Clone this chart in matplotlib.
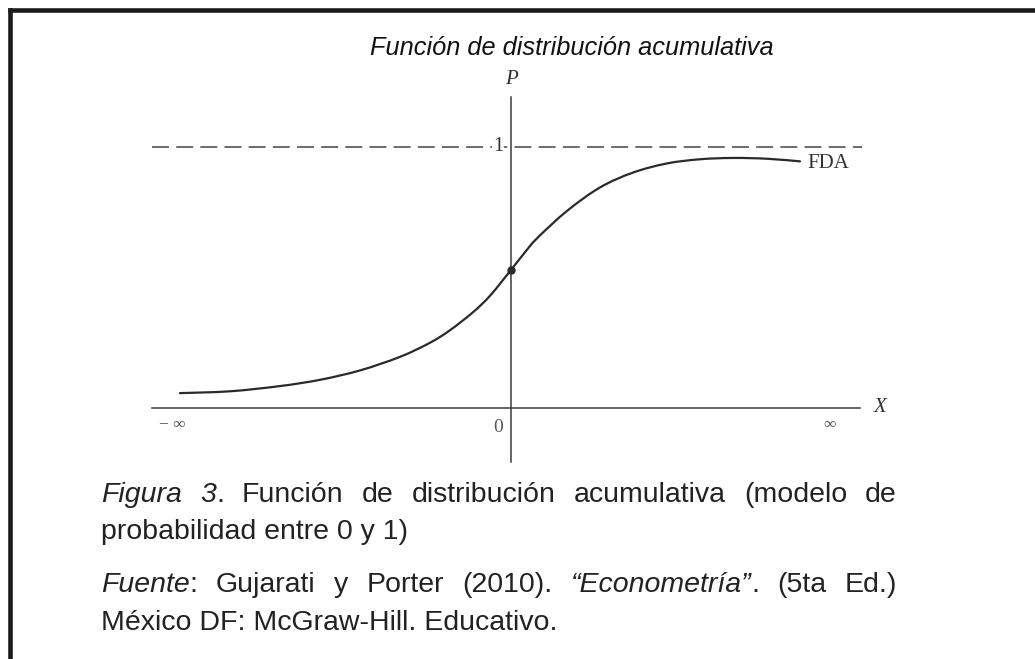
import matplotlib
matplotlib.use('Agg')
import matplotlib.pyplot as plt
from matplotlib.lines import Line2D
from matplotlib.path import Path
from matplotlib.patches import PathPatch

# ---- data ----
x_curve = [-3.31, -2.81, -2.31, -1.91, -1.51, -1.11, -0.81, -0.61, -0.38, -0.21, 0.0,
           0.13, 0.26, 0.56, 0.89, 1.22, 1.56, 1.89, 2.22, 2.56, 2.89]
p_curve = [0.057, 0.064, 0.084, 0.108, 0.144, 0.196, 0.250, 0.298, 0.367, 0.430, 0.529,
           0.592, 0.650, 0.755, 0.845, 0.902, 0.937, 0.953, 0.958, 0.955, 0.945]
dot_x, dot_p = 0.0, 0.529
x_min_axis, x_max_axis = -3.59, 3.49
p_min_axis, p_max_axis = -0.207, 1.19
upper_level = 1.0

title = "Función de distribución acumulativa"
x_tick_labels = ["\u2212 \u221e", "0", "\u221e"]
x_tick_pos = [-3.39, -0.13, 3.19]

caption1 = [[("Figura", "italic")], [("3", "italic"), (".", "normal")], [("Función", "normal")],
            [("de", "normal")], [("distribución", "normal")], [("acumulativa", "normal")],
            [("(modelo", "normal")], [("de", "normal")]]
caption2 = "probabilidad entre 0 y 1)"
caption3 = [[("Fuente", "italic"), (":", "normal")], [("Gujarati", "normal")], [("y", "normal")],
            [("Porter", "normal")], [("(2010).", "normal")],
            [("\u201cEconometría\u201d", "italic"), (".", "normal")], [("(5ta", "normal")],
            [("Ed.)", "normal")]]
caption4 = "México DF: McGraw-Hill. Educativo."

W, H = 1035, 659
fig = plt.figure(figsize=(W / 100, H / 100), dpi=100)
ax = fig.add_axes([0, 0, 1, 1])
ax.set_xlim(-5.11, 5.24)
ax.set_ylim(-0.9617, 1.5632)
ax.axis('off')

# frame (top and left)
fig.add_artist(Line2D([9.5 / W, 1], [1 - 9.5 / H, 1 - 9.5 / H], transform=fig.transFigure,
                      color='#1a1a1a', lw=3.3, solid_capstyle='projecting'))
fig.add_artist(Line2D([9.5 / W, 9.5 / W], [0, 1 - 9.5 / H], transform=fig.transFigure,
                      color='#1a1a1a', lw=3.3, solid_capstyle='projecting'))

axis_col = '#3c3c3c'
ax.plot([x_min_axis, x_max_axis], [0, 0], color=axis_col, lw=1.1)
ax.plot([0, 0], [p_min_axis, p_max_axis], color=axis_col, lw=1.1)

plt.rcParams['lines.scale_dashes'] = False
ln, = ax.plot([x_min_axis, x_max_axis + 0.02], [upper_level, upper_level], color='#444444', lw=1.1)
ln.set_dashes([12.2, 5.2])

# smooth curve through the read points (Catmull-Rom rendered as cubic Bezier path)
verts = [(x_curve[0], p_curve[0])]
codes = [Path.MOVETO]
n = len(x_curve)
for i in range(n - 1):
    i0, i3 = max(i - 1, 0), min(i + 2, n - 1)
    p0 = (x_curve[i0], p_curve[i0])
    p1 = (x_curve[i], p_curve[i])
    p2 = (x_curve[i + 1], p_curve[i + 1])
    p3 = (x_curve[i3], p_curve[i3])
    c1 = (p1[0] + (p2[0] - p0[0]) / 6, p1[1] + (p2[1] - p0[1]) / 6)
    c2 = (p2[0] - (p3[0] - p1[0]) / 6, p2[1] - (p3[1] - p1[1]) / 6)
    verts += [c1, c2, p2]
    codes += [Path.CURVE4] * 3
ax.add_patch(PathPatch(Path(verts, codes), facecolor='none', edgecolor='#2a2a2a', lw=1.6,
                       capstyle='round'))
ax.plot([dot_x], [dot_p], 'o', color='#2a2a2a', ms=5)

serif = 'Liberation Serif'
ax.text(-0.13, upper_level, "1", family=serif, fontsize=14.5, ha='center', va='center',
        color='#333333', bbox=dict(facecolor='white', edgecolor='none', pad=1))
ax.text(0.0, 1.26, "P", family=serif, style='italic', fontsize=15, ha='center', va='center',
        color='#333333')
ax.text(3.69, 0.0, "X", family=serif, style='italic', fontsize=15, ha='center', va='center',
        color='#333333')
ax.text(2.96, 0.937, "FDA", family=serif, fontsize=15, ha='left', va='center', color='#333333')
for lab, xp in zip(x_tick_labels, x_tick_pos):
    yp = -0.073 if lab == "0" else -0.065
    ax.text(xp, yp, lab, family=serif, fontsize=14 if lab == "0" else 12.5, ha='center',
            va='center', color='#555566')

sans = 'Liberation Sans'
fig.text(572 / W, 1 - 48 / H, title, family=sans, style='italic', fontsize=18.3,
         ha='center', va='center', color='#111111')

cap_size = 20.5
cap_col = '#222222'
fig.canvas.draw()
renderer = fig.canvas.get_renderer()


def word_width(runs):
    w = 0
    for txt, st in runs:
        t = fig.text(0, 0, txt, family=sans, style=st, fontsize=cap_size)
        w += t.get_window_extent(renderer).width
        t.remove()
    return w


def justified(words, x0, x1, y):
    widths = [word_width(w) for w in words]
    gap = (x1 - x0 - sum(widths)) / (len(words) - 1)
    x = x0
    for runs, wd in zip(words, widths):
        xx = x
        for txt, st in runs:
            t = fig.text(xx / W, 1 - y / H, txt, family=sans, style=st, fontsize=cap_size,
                         ha='left', va='baseline', color=cap_col)
            xx += t.get_window_extent(renderer).width
        x += wd + gap


left, right = 101, 897
justified(caption1, left, right, 502)
fig.text(left / W, 1 - 539 / H, caption2, family=sans, fontsize=cap_size, ha='left',
         va='baseline', color=cap_col)
justified(caption3, left, right, 592)
fig.text(left / W, 1 - 630 / H, caption4, family=sans, fontsize=cap_size, ha='left',
         va='baseline', color=cap_col)

fig.savefig('out.png', dpi=100, facecolor='white')
